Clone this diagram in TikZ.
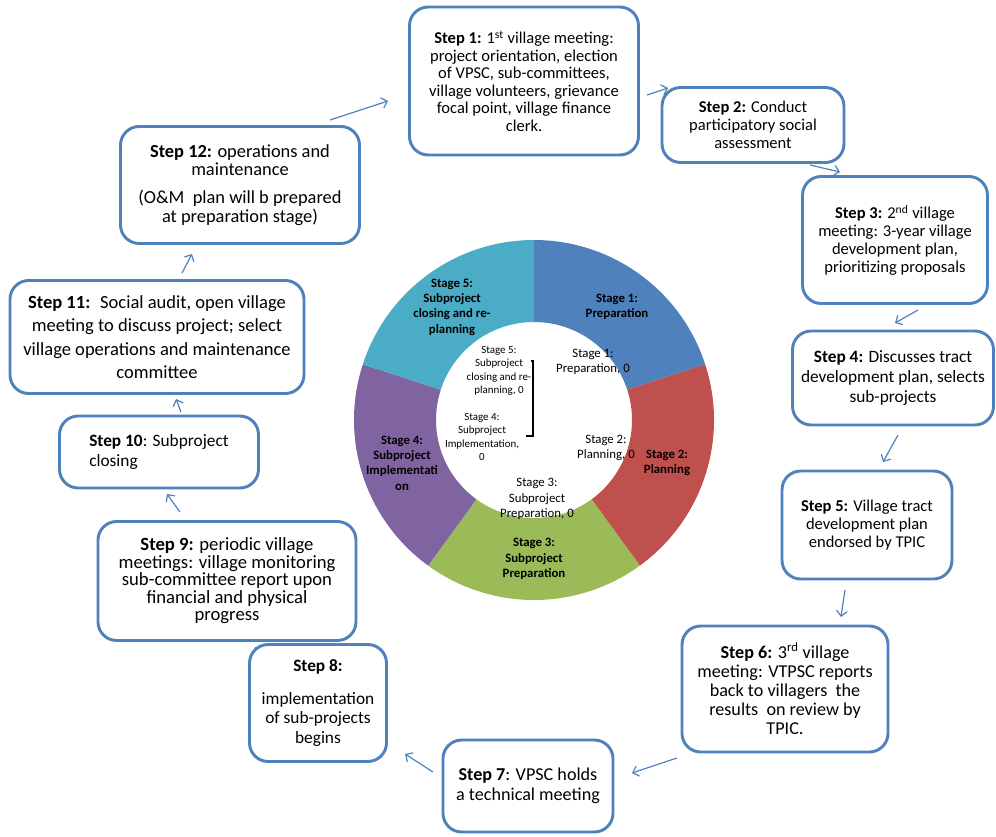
\documentclass[tikz,border=0pt]{standalone}
\usepackage{fontspec}
\setmainfont{Carlito}
\usetikzlibrary{arrows.meta}
\definecolor{boxblue}{HTML}{4F81BD}
\definecolor{stageone}{HTML}{4F81BD}
\definecolor{stagetwo}{HTML}{C0504D}
\definecolor{stagethree}{HTML}{9BBB59}
\definecolor{stagefour}{HTML}{8064A2}
\definecolor{stagefive}{HTML}{4BACC6}

\begin{document}
\begin{tikzpicture}[x=0.75pt, y=-0.75pt, >={Straight Barb[length=4pt,width=8pt]},
        box/.style={draw=boxblue, line width=2.2pt, rounded corners=14pt, fill=white, align=center, inner sep=2pt},
        flow/.style={->, draw=boxblue, line width=0.9pt},
        seg/.style={font=\fontsize{9.6}{11.5}\selectfont\bfseries, align=center},
        val/.style={font=\fontsize{9.6}{11.6}\selectfont, align=center},
        smallval/.style={font=\fontsize{8.2}{10}\selectfont, align=center}]
            \useasboundingbox (0,0) rectangle (996,836);
            \newcommand{\stepnode}[6]{
                \node[box, minimum width={#3*0.75pt}, minimum height={#4*0.75pt}, font=#5] (#1) at (#2) {#6};
            }
            \foreach \n/\ax/\ay/\bx/\by in {1/330/120/388/101, 2/647/95/668/88, 3/810/165/840/172,
                    4/918/310/895/323, 5/898/435/883/462, 6/845/590/841/617, 7/677/758/632/773,
                    8/433/772/405/754, 9/262/662/255/647, 10/180/512/167/494, 11/181/412/176/399,
                    12/182/273/192/254}
                \draw[flow] (\ax,\ay) coordinate (tail\n) -- (\bx,\by) coordinate (head\n);
            \stepnode{s1}{524,81}{229}{148}{\fontsize{12.4}{13.1}\selectfont}{\textbf{Step 1:} 1\textsuperscript{st} village meeting:\\ project orientation, election\\ of VPSC, sub-committees,\\ village volunteers, grievance\\ focal point, village finance\\ clerk.}
            \stepnode{s2}{753,125}{182}{75}{\fontsize{12.4}{13.3}\selectfont}{\textbf{Step 2:} Conduct\\ participatory social\\ assessment}
            \stepnode{s3}{895,240}{185}{127}{\fontsize{12.4}{13.3}\selectfont}{\textbf{Step 3:} 2\textsuperscript{nd} village\\ meeting: 3-year village\\ development plan,\\ prioritizing proposals}
            \stepnode{s4}{893,378}{201}{94}{\fontsize{13}{15}\selectfont}{\textbf{Step 4:} Discusses tract\\ development plan, selects\\ sub-projects}
            \stepnode{s5}{867,525}{170}{108}{\fontsize{12.4}{13.8}\selectfont}{\textbf{Step 5:} Village tract\\ development plan\\ endorsed by TPIC}
            \stepnode{s6}{785,689}{206}{126}{\fontsize{13.6}{14.3}\selectfont}{\textbf{Step 6:} 3\textsuperscript{rd} village\\ meeting: VTPSC reports\\ back to villagers~ the\\ results~ on review by\\ TPIC.}
            \stepnode{s7}{528,786}{170}{92}{\fontsize{13.6}{15}\selectfont}{\textbf{Step 7}: VPSC holds\\ a technical meeting}
            \stepnode{s8}{318,703}{137}{117}{\fontsize{13}{14.5}\selectfont}{\textbf{Step 8:}\\[10pt] implementation\\ of sub-projects\\ begins}
            \stepnode{s9}{227,581}{258}{119}{\fontsize{14}{13.1}\selectfont}{\textbf{Step 9:} periodic village\\ meetings: village monitoring\\ sub-committee report upon\\ financial and physical\\ progress}
            \node[box, align=left, minimum width={199*0.75pt}, minimum height={72*0.75pt}, font=\fontsize{13}{15}\selectfont] (s10) at (159,452) {\textbf{Step 10}: Subproject\\ closing};
            \stepnode{s11}{157,337}{294}{113}{\fontsize{13.9}{17.5}\selectfont}{\textbf{Step 11:}~ Social audit, open village\\ meeting to discuss project; select\\ village operations and maintenance\\ committee}
            \stepnode{s12}{240,185}{239}{117}{\fontsize{13.8}{14}\selectfont}{\textbf{Step 12:} operations and\\ maintenance\\[7pt] (O\&M~ plan will b prepared\\ at preparation stage)}
            \coordinate (ctr) at (534,420);
            \begin{scope}[shift={(ctr)}, y=0.75pt]
                \foreach \a/\col in {90/stageone, 18/stagetwo, -54/stagethree, -126/stagefour, -198/stagefive}
                    \fill[\col] (\a:180) arc[start angle=\a, end angle=\a-72, radius=180]
                        -- (\a-72:98) arc[start angle=\a-72, end angle=\a, radius=98] -- cycle;
            \end{scope}
            \node[seg] (seg1) at (617,307) {Stage 1:\\ Preparation};
            \node[seg] (seg2) at (667,463) {Stage 2:\\ Planning};
            \node[seg] (seg3) at (534,559) {Stage 3:\\ Subproject\\ Preparation};
            \node[seg] (seg4) at (402,463) {Stage 4:\\ Subproject\\ Implementati\\ on};
            \node[seg] (seg5) at (452,307) {Stage 5:\\ Subproject\\ closing and re-\\ planning};
            \node[val] (lab1) at (593,362) {Stage 1:\\ Preparation, 0};
            \node[val] (lab2) at (606,448) {Stage 2:\\ Planning, 0};
            \node[val] (lab3) at (537,499) {Stage 3:\\ Subproject\\ Preparation, 0};
            \node[smallval] (lab4) at (482,437) {Stage 4:\\ Subproject\\ Implementation,\\ 0};
            \node[smallval] (lab5) at (499,371) {Stage 5:\\ Subproject\\ closing and re-\\ planning, 0};
            \draw[line width=1pt] (531,361) -| (533,436) -- (526,436);
        \end{tikzpicture}
\end{document}
